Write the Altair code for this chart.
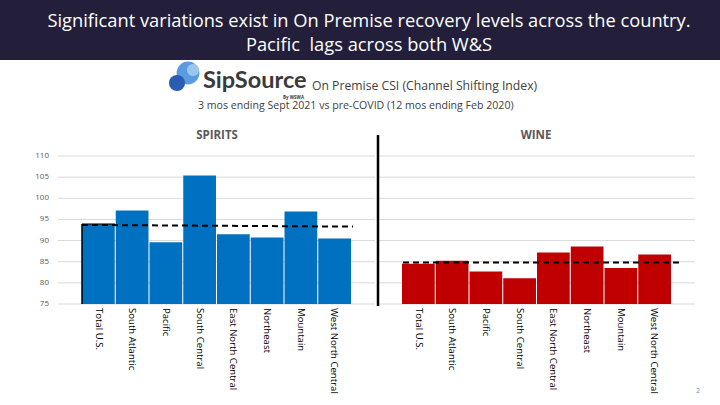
import altair as alt
import pandas as pd

# ---- data ----
regions = ["Total U.S.", "South Atlantic", "Pacific", "South Central",
           "East North Central", "Northeast", "Mountain", "West North Central"]
spirits_csi = [93.9, 97.1, 89.6, 105.4, 91.5, 90.7, 96.9, 90.5]
wine_csi = [84.5, 85.2, 82.7, 81.1, 87.2, 88.6, 83.5, 86.7]
spirits_ref = [93.7, 93.3]   # dashed reference line (start, end)
wine_ref = [84.8, 84.8]
y_ticks = [75, 80, 85, 90, 95, 100, 105, 110]
title_lines = ["Significant variations exist in On Premise recovery levels across the country.",
               "Pacific\u00a0 lags across both W&S"]
chart_title = "On Premise CSI (Channel Shifting Index)"
chart_subtitle = "3 mos ending Sept 2021 vs pre-COVID (12 mos ending Feb 2020)"
panel_titles = ["SPIRITS", "WINE"]

FONT = "Open Sans"
BLUE = "#0070c0"
RED = "#c00000"
GRAY = "#595959"

y_scale = alt.Scale(domain=[75, 110], range=[304, 156], nice=False, zero=False)
sp_x = alt.Scale(domain=regions, range=[82, 351], paddingInner=0.03, paddingOuter=0)
wi_x = alt.Scale(domain=regions, range=[402, 671], paddingInner=0.03, paddingOuter=0)

sp_df = pd.DataFrame({"region": regions, "value": spirits_csi})
wi_df = pd.DataFrame({"region": regions, "value": wine_csi})
tick_df = pd.DataFrame({"tick": y_ticks})
one = pd.DataFrame({"a": [0]})

layers = []

# header band
layers.append(alt.Chart(one).mark_rect(color="#231f3a").encode(
    x=alt.value(0), x2=alt.value(720), y=alt.value(0), y2=alt.value(60)))
for i, line in enumerate(title_lines):
    layers.append(alt.Chart(pd.DataFrame({"t": [line]})).mark_text(
        font=FONT, fontSize=18.3, color="white", align="center", baseline="alphabetic"
    ).encode(x=alt.value(369), y=alt.value(27 + 24 * i), text="t:N"))

# logo icon (decorative)
icon = [(188, 73, 520, "#5b9be0"), (177, 83, 260, "#2a5db0"), (193, 70, 150, "#9cc6f0")]
for cx, cy, sz, col in icon:
    layers.append(alt.Chart(one).mark_point(filled=True, shape="circle", size=sz, color=col, opacity=1).encode(
        x=alt.value(cx), y=alt.value(cy)))
layers.append(alt.Chart(pd.DataFrame({"t": ["SipSource"]})).mark_text(
    font="Lato", fontSize=23.5, fontWeight="bold", color="#3a3a3a", align="left", baseline="alphabetic"
).encode(x=alt.value(203), y=alt.value(88), text="t:N"))
layers.append(alt.Chart(pd.DataFrame({"t": ["By WSWA"]})).mark_text(
    font=FONT, fontSize=4.5, fontWeight="bold", color="#3a3a3a", align="left", baseline="top"
).encode(x=alt.value(283), y=alt.value(94.5), text="t:N"))
layers.append(alt.Chart(pd.DataFrame({"t": [chart_title]})).mark_text(
    font=FONT, fontSize=12.2, color="#404040", align="left", baseline="alphabetic"
).encode(x=alt.value(312), y=alt.value(90), text="t:N"))
layers.append(alt.Chart(pd.DataFrame({"t": [chart_subtitle]})).mark_text(
    font=FONT, fontSize=10.6, color="#404040", align="left", baseline="alphabetic"
).encode(x=alt.value(198), y=alt.value(109), text="t:N"))

# panel titles
for txt, cx in zip(panel_titles, [217, 536]):
    layers.append(alt.Chart(pd.DataFrame({"t": [txt]})).mark_text(
        font=FONT, fontSize=11.5, fontWeight="bold", color=GRAY, align="center", baseline="middle"
    ).encode(x=alt.value(cx), y=alt.value(136), text="t:N"))

# gridlines
for x0, x1 in [(58, 375), (378, 695)]:
    layers.append(alt.Chart(tick_df).mark_rule(color="#d9d9d9", strokeWidth=1).encode(
        y=alt.Y("tick:Q", scale=y_scale, axis=None), x=alt.value(x0), x2=alt.value(x1)))

# y labels
layers.append(alt.Chart(tick_df).mark_text(
    font=FONT, fontSize=8, color=GRAY, align="right", baseline="middle"
).encode(y=alt.Y("tick:Q", scale=y_scale, axis=None), x=alt.value(49), text="tick:Q"))

# bars
layers.append(alt.Chart(sp_df).mark_bar(color=BLUE).encode(
    x=alt.X("region:N", scale=sp_x, axis=None, sort=regions),
    y=alt.Y("value:Q", scale=y_scale, axis=None), y2=alt.datum(75)))
layers.append(alt.Chart(wi_df).mark_bar(color=RED).encode(
    x=alt.X("region:N", scale=wi_x, axis=None, sort=regions),
    y=alt.Y("value:Q", scale=y_scale, axis=None), y2=alt.datum(75)))

# black edges on Total U.S. spirits bar (left and top)
tot_df = sp_df[sp_df.region == "Total U.S."]
layers.append(alt.Chart(tot_df).mark_rule(color="black", strokeWidth=1.5).encode(
    x=alt.X("region:N", scale=sp_x, axis=None, sort=regions, bandPosition=0),
    y=alt.Y("value:Q", scale=y_scale, axis=None), y2=alt.datum(75)))
layers.append(alt.Chart(tot_df).mark_tick(color="black", thickness=1.5, size=33, orient="horizontal").encode(
    x=alt.X("region:N", scale=sp_x, axis=None, sort=regions),
    y=alt.Y("value:Q", scale=y_scale, axis=None)))

# dashed reference lines
for ref, x0, x1 in [(spirits_ref, 82, 353), (wine_ref, 403, 682)]:
    layers.append(alt.Chart(pd.DataFrame({"s": [ref[0]], "e": [ref[1]]})).mark_rule(
        color="black", strokeWidth=2, strokeDash=[6, 4]).encode(
        y=alt.Y("s:Q", scale=y_scale, axis=None), y2="e:Q", x=alt.value(x0), x2=alt.value(x1)))

# category labels
for df, sc in [(sp_df, sp_x), (wi_df, wi_x)]:
    layers.append(alt.Chart(df).mark_text(
        font=FONT, fontSize=9.6, color="black", angle=90, align="left", baseline="middle"
    ).encode(x=alt.X("region:N", scale=sc, axis=None, sort=regions), y=alt.value(308), text="region:N"))

# divider
layers.append(alt.Chart(one).mark_rule(color="black", strokeWidth=2.5).encode(
    x=alt.value(378), y=alt.value(135), y2=alt.value(306)))

# page number
layers.append(alt.Chart(pd.DataFrame({"t": ["2"]})).mark_text(
    font=FONT, fontSize=7, color="#5b9bd5", align="center", baseline="middle"
).encode(x=alt.value(698), y=alt.value(391), text="t:N"))

chart = alt.layer(*layers).resolve_scale(x="independent").properties(
    width=720, height=405, autosize=alt.AutoSizeParams(type="none"), padding=0,
    background="white"
).configure_view(stroke=None)

chart.save("out.html", embed_options={"renderer": "svg", "actions": False})
